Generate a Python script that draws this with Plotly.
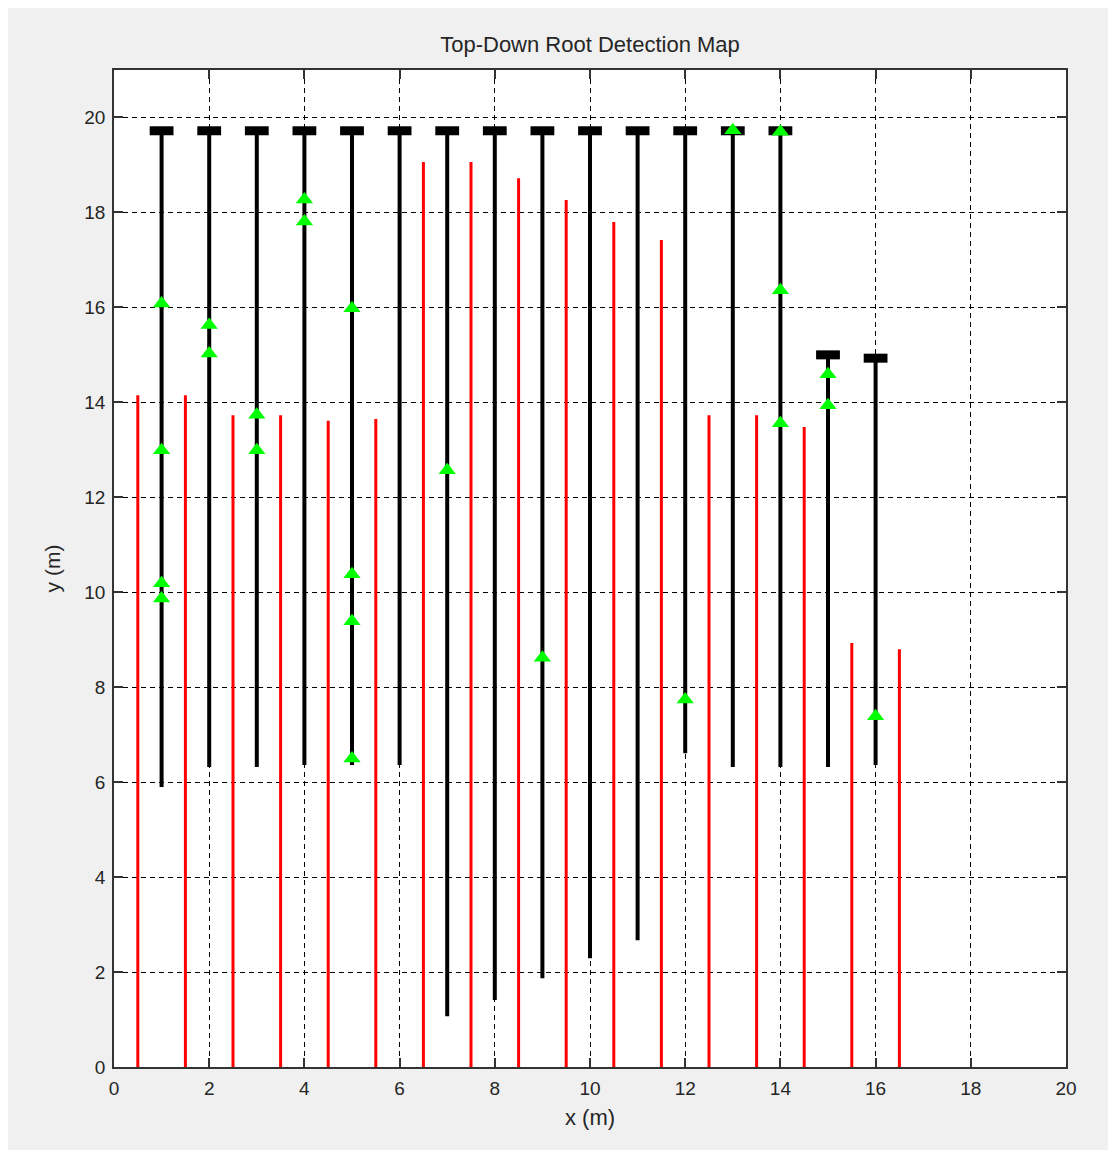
import plotly.graph_objects as go

# ---- data ----
black_x = [1, 2, 3, 4, 5, 6, 7, 8, 9, 10, 11, 12, 13, 14, 15, 16]
black_top = [19.72, 19.72, 19.72, 19.72, 19.72, 19.72, 19.72, 19.72,
             19.72, 19.72, 19.72, 19.72, 19.72, 19.72, 15.0, 14.93]
black_bottom = [5.9, 6.32, 6.32, 6.36, 6.36, 6.36, 1.07, 1.41,
                1.87, 2.29, 2.67, 6.61, 6.32, 6.32, 6.32, 6.36]

red_x = [0.5, 1.5, 2.5, 3.5, 4.5, 5.5, 6.5, 7.5, 8.5, 9.5, 10.5,
         11.5, 12.5, 13.5, 14.5, 15.5, 16.5]
red_top = [14.15, 14.15, 13.73, 13.73, 13.61, 13.65, 19.06, 19.06, 18.72,
           18.26, 17.80, 17.42, 13.73, 13.73, 13.48, 8.93, 8.80]

det_x = [1, 1, 1, 1, 2, 2, 3, 3, 4, 4, 5, 5, 5, 5, 7, 9, 12, 13,
         14, 14, 14, 15, 15, 16]
det_y = [16.08, 12.99, 10.19, 9.87, 15.63, 15.03, 13.74, 12.99, 18.27, 17.81,
         15.98, 10.38, 9.39, 6.5, 12.57, 8.62, 7.74, 19.73,
         19.70, 16.36, 13.56, 14.59, 13.94, 7.39]

x_ticks = [0, 2, 4, 6, 8, 10, 12, 14, 16, 18, 20]
y_ticks = [0, 2, 4, 6, 8, 10, 12, 14, 16, 18, 20]

CAP_HALF = 0.25

# ---- build segments ----
rx, ry = [], []
for x, t in zip(red_x, red_top):
    rx += [x, x, None]
    ry += [0, t, None]

bx, by = [], []
for x, t, b in zip(black_x, black_top, black_bottom):
    bx += [x, x, None]
    by += [b, t, None]

cx, cy = [], []
for x, t in zip(black_x, black_top):
    cx += [x - CAP_HALF, x + CAP_HALF, None]
    cy += [t, t, None]

fig = go.Figure()
fig.add_trace(go.Scatter(x=rx, y=ry, mode="lines",
                         line=dict(color="#ff0000", width=3), showlegend=False))
fig.add_trace(go.Scatter(x=bx, y=by, mode="lines",
                         line=dict(color="#000000", width=4), showlegend=False))
fig.add_trace(go.Scatter(x=cx, y=cy, mode="lines",
                         line=dict(color="#000000", width=9), showlegend=False))
fig.add_trace(go.Scatter(x=det_x, y=det_y, mode="markers",
                         marker=dict(symbol="triangle-up", size=15, color="#00ff00",
                                     line=dict(width=0)),
                         showlegend=False))

font_family = "Liberation Sans, Arial, sans-serif"
txt_color = "#262626"

axis_common = dict(
    showgrid=True, gridcolor="#000000", gridwidth=1, griddash="5px,4px",
    zeroline=False, showline=True, linecolor="#333333", linewidth=1.5,
    mirror="ticks", ticks="inside", ticklen=9, tickcolor="#333333", tickwidth=1.5,
    ticklabelstandoff=3,
    tickfont=dict(family=font_family, size=19, color=txt_color),
)

W, H = 1100, 1142
fig.update_layout(
    width=W, height=H,
    margin=dict(l=106, r=42, t=62, b=83),
    paper_bgcolor="#f0f0f0", plot_bgcolor="#ffffff",
    title=dict(text="Top-Down Root Detection Map", x=0.5, xref="paper",
               y=1 - 36 / H, yref="container", yanchor="middle", xanchor="center",
               font=dict(family=font_family, size=22, color=txt_color)),
    xaxis=dict(range=[0, 20], tickvals=x_ticks, ticktext=[str(v) for v in x_ticks],
               title=dict(text="x (m)", standoff=12,
                          font=dict(family=font_family, size=22, color=txt_color)),
               **axis_common),
    yaxis=dict(range=[0, 21], tickvals=y_ticks, ticktext=[str(v) for v in y_ticks],
               title=dict(text="y (m)", standoff=18,
                          font=dict(family=font_family, size=21, color=txt_color)),
               **axis_common),
)

fig.write_html("out.html")
